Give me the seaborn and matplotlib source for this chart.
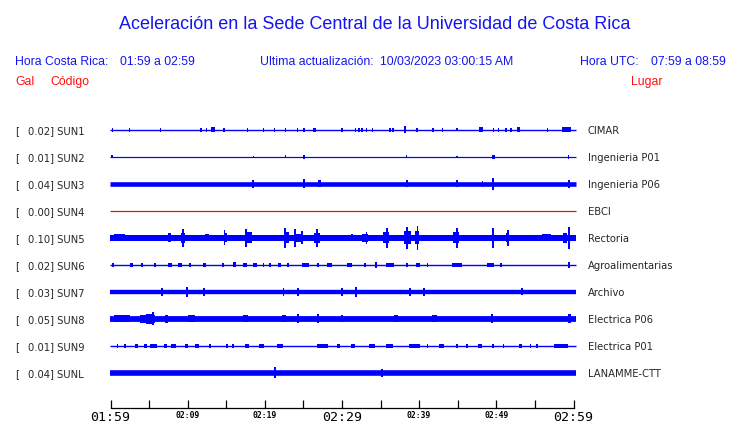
import numpy as np
import pandas as pd
import matplotlib
matplotlib.use("Agg")
import matplotlib.pyplot as plt
import matplotlib.transforms as mtransforms
import seaborn as sns

sns.set_style("white")
plt.rcParams["font.family"] = ["DejaVu Sans"]

# stations
codes = ["SUN1", "SUN2", "SUN3", "SUN4", "SUN5", "SUN6", "SUN7", "SUN8", "SUN9", "SUNL"]
gal = [0.02, 0.01, 0.04, 0.00, 0.10, 0.02, 0.03, 0.05, 0.01, 0.04]
places = ["CIMAR", "Ingenieria P01", "Ingenieria P06", "EBCI", "Rectoria",
          "Agroalimentarias", "Archivo", "Electrica P06", "Electrica P01", "LANAMME-CTT"]
trace_colors = ["blue", "blue", "blue", "red", "blue", "blue", "blue", "blue", "blue", "blue"]

# record span, minutes after 01:59
rec_start = -0.05
rec_end = 60.3
# half width of the continuous noise band (px)
base_amp = [0.7, 0.6, 2.3, 0.6, 3.0, 0.7, 2.2, 2.9, 0.7, 2.8]

# bursts: (minute, half amplitude, duration in minutes)
sun1 = [(0.3, 2, 0.15), (2.5, 2, 0.15), (6.5, 2, 0.15), (11.7, 2, 0.3), (12.4, 2, 0.15),
        (13.3, 2.5, 0.5), (14.7, 2, 0.15), (17.7, 2, 0.15), (19.8, 2, 0.15), (21.3, 2, 0.15),
        (22.7, 2, 0.15), (24.2, 2, 0.15), (25.1, 2, 0.2), (26.4, 2, 0.4), (30.0, 2, 0.15),
        (31.8, 2, 0.15), (32.2, 2, 0.15), (32.6, 2, 0.15), (33.2, 2, 0.15), (34.0, 2, 0.15),
        (36.2, 2, 0.3), (36.6, 2, 0.3), (38.2, 3.5, 0.25), (39.7, 2, 0.25), (41.8, 2, 0.2),
        (43.0, 2, 0.15), (44.9, 1.5, 0.15), (48.0, 2.5, 0.6), (49.6, 2, 0.15), (50.3, 2, 0.15),
        (51.2, 2, 0.25), (51.9, 2, 0.25), (52.9, 2.5, 0.35), (56.6, 2, 0.15), (59.1, 2.5, 1.2)]
sun2 = [(0.2, 1.5, 0.15), (18.5, 1.2, 0.15), (22.7, 1.5, 0.15), (25.1, 1.8, 0.2),
        (38.4, 1.5, 0.15), (44.9, 1.2, 0.15), (49.6, 2.2, 0.35), (59.4, 1.8, 0.15)]
sun3 = [(18.5, 4, 0.2), (25.1, 4.5, 0.25), (27.1, 3.5, 0.35), (38.4, 3.5, 0.25),
        (44.9, 3.5, 0.25), (48.2, 3, 0.2), (49.6, 6, 0.3), (59.4, 4, 0.35)]
sun4 = []
sun5 = [(1.2, 3.6, 1.4), (7.7, 4.3, 0.4), (9.4, 9, 0.2), (9.4, 5, 0.6), (12.5, 3.5, 0.5),
        (14.8, 7.5, 0.2), (14.9, 4.5, 0.5), (17.6, 9, 0.25), (18.0, 5.5, 0.8), (22.6, 10, 0.25),
        (22.8, 5.5, 0.7), (23.9, 9, 0.2), (24.8, 6.5, 0.35), (24.5, 4, 1.0), (26.8, 9, 0.25),
        (26.8, 5, 0.8), (31.3, 3.5, 0.3), (33.2, 6, 0.2), (33.0, 4, 0.7), (35.8, 10, 0.2),
        (35.7, 5.5, 0.8), (38.4, 11, 0.2), (38.5, 6.5, 1.0), (39.8, 12, 0.2), (39.7, 6.5, 0.5),
        (44.9, 10, 0.2), (44.8, 5.5, 0.8), (49.6, 10, 0.2), (51.5, 8, 0.2), (51.5, 4.5, 0.4),
        (56.5, 3.5, 1.2), (58.9, 5, 0.5), (59.4, 11, 0.2)]
sun6 = [(0.3, 2, 0.3), (2.7, 2, 0.4), (4.1, 2, 0.3), (5.8, 2, 0.2), (7.7, 2, 0.5), (9.0, 2, 0.5),
        (10.3, 2, 0.2), (12.2, 2, 0.4), (14.6, 2, 0.2), (16.1, 2.5, 0.4), (17.4, 2, 0.5),
        (18.7, 2, 0.5), (19.8, 2, 0.2), (20.7, 2, 0.2), (21.9, 2, 0.5), (23.0, 2, 0.3),
        (25.3, 2, 0.9), (26.9, 2, 0.2), (28.4, 2, 0.6), (31.0, 2, 0.7), (33.0, 2, 0.2),
        (34.4, 3, 0.2), (36.2, 2, 1.0), (38.4, 2, 0.2), (39.8, 2, 0.5), (41.1, 2, 0.2),
        (44.9, 2, 1.2), (49.3, 2, 0.9), (50.6, 2, 0.3), (59.4, 3, 0.2)]
sun7 = [(6.7, 4, 0.2), (9.9, 5, 0.2), (12.1, 4, 0.2), (22.4, 4, 0.2), (24.3, 4, 0.2),
        (30.0, 4, 0.2), (31.8, 5, 0.2), (38.8, 4, 0.2), (40.6, 4, 0.2), (53.3, 3.5, 0.2)]
sun8 = [(1.5, 3.6, 2.0), (4.8, 4.3, 2.0), (5.5, 6.5, 0.3), (5.0, 5.3, 0.8), (7.3, 4.3, 0.4),
        (10.5, 3.6, 1.0), (17.5, 3.5, 0.6), (22.5, 3.5, 0.5), (24.3, 4.5, 0.2),
        (26.9, 4.5, 0.2), (30.0, 3.5, 0.3), (37.0, 3.4, 0.6), (42.0, 3.4, 0.6),
        (49.4, 4.5, 0.3), (59.5, 4.5, 0.3)]
sun9 = [(0.9, 2, 0.2), (1.9, 2, 0.2), (3.4, 2, 0.4), (4.5, 2, 0.4), (5.6, 2, 0.9), (7.1, 2, 0.4),
        (8.2, 2, 0.7), (9.9, 2, 0.4), (11.2, 2, 0.6), (12.9, 2, 0.2), (15.1, 2, 0.2),
        (15.9, 2, 0.2), (17.7, 2, 0.5), (19.6, 2, 0.6), (22.0, 2, 0.8), (27.5, 2, 1.4),
        (29.5, 2, 0.4), (31.4, 2, 0.5), (33.9, 2, 0.7), (36.2, 2, 0.9), (39.4, 2, 1.5),
        (41.1, 2, 0.2), (42.9, 2, 0.7), (44.9, 2, 0.2), (46.2, 2, 0.2), (47.9, 2, 0.5),
        (49.6, 2, 0.2), (50.9, 2, 0.2), (53.1, 2, 0.4), (54.4, 2, 0.2), (55.3, 2, 0.2),
        (58.4, 2, 1.8)]
sunl = [(21.3, 5.5, 0.25), (35.2, 4, 0.2)]
bursts = [sun1, sun2, sun3, sun4, sun5, sun6, sun7, sun8, sun9, sunl]

# time axis
tick_min = [0, 5, 10, 15, 20, 25, 30, 35, 40, 45, 50, 55, 60]
tick_lab = ["01:59", "", "02:09", "", "02:19", "", "02:29", "", "02:39", "", "02:49", "", "02:59"]
big_labels = ["01:59", "02:29", "02:59"]

W, H = 740, 423
row_px = 27.0          # pixels between traces
k = 1 / row_px         # px -> row units
blue_txt = "#1414f0"

fig = plt.figure(figsize=(W / 100, H / 100), dpi=100)
# axes: x 0..60 min spans px 110.5..573.5, bottom spine at px 408
ax = fig.add_axes([110.5 / W, 1 - 408 / H, 463 / W, (408 - 100) / H])
ax.set_xlim(0, 60)
ax.set_ylim((408 - 129.8) / row_px, (100 - 129.8) / row_px)

for i in range(len(codes)):
    c = trace_colors[i]
    sns.lineplot(x=[rec_start, rec_end], y=[i, i], ax=ax, color=c,
                 linewidth=max(2 * base_amp[i], 1.0) * 0.72, solid_capstyle="butt")
    if bursts[i]:
        df = pd.DataFrame(bursts[i], columns=["t", "amp", "dur"])
        ax.bar(df["t"], 2 * df["amp"] * k, width=df["dur"], bottom=i - df["amp"] * k,
               color=c, linewidth=0, align="center", clip_on=False)
for line in ax.lines:
    line.set_clip_on(False)

for s in ["left", "right", "top"]:
    ax.spines[s].set_visible(False)
ax.spines["bottom"].set_color("black")
ax.spines["bottom"].set_linewidth(0.9)
ax.set_yticks([])
ax.set_xticks(tick_min)
ax.set_xticklabels(tick_lab)
ax.tick_params(axis="x", bottom=True, direction="in", length=5.8, width=0.9, pad=2.5,
               colors="black")
for lab in ax.get_xticklabels():
    lab.set_family("DejaVu Sans Mono")
    if lab.get_text() in big_labels:
        lab.set_fontsize(9.5)
    else:
        lab.set_fontsize(5.8)
        lab.set_fontweight("bold")
ax.set_xlabel("")
ax.set_ylabel("")
ax.grid(False)

# station labels
tr = mtransforms.blended_transform_factory(fig.transFigure, ax.transData)
for i in range(len(codes)):
    yb = i + 4.6 * k
    ax.text(15 / W, yb, "[", transform=tr, fontsize=7.2, va="baseline", ha="left", clip_on=False)
    ax.text(28 / W, yb, "%.2f] %s" % (gal[i], codes[i]), transform=tr, fontsize=7.2,
            va="baseline", ha="left", clip_on=False)
    ax.text(588 / W, yb, places[i], transform=tr, fontsize=7.2, va="baseline", ha="left",
            clip_on=False)

# header
hdr = dict(family=["Liberation Sans", "DejaVu Sans"], va="baseline", ha="left", fontsize=8.8)
fig.text(375 / W, 1 - 29.3 / H, "Aceleración en la Sede Central de la Universidad de Costa Rica",
         ha="center", va="baseline", fontsize=13, color=blue_txt,
         family=["Liberation Sans", "DejaVu Sans"])
fig.text(15 / W, 1 - 65 / H, "Hora Costa Rica:", color=blue_txt, **hdr)
fig.text(120 / W, 1 - 65 / H, "01:59 a 02:59", color=blue_txt, **hdr)
fig.text(260 / W, 1 - 65 / H, "Ultima actualización:", color=blue_txt, **hdr)
fig.text(380 / W, 1 - 65 / H, "10/03/2023 03:00:15 AM", color=blue_txt, **hdr)
fig.text(580.5 / W, 1 - 65 / H, "Hora UTC:", color=blue_txt, **hdr)
fig.text(651 / W, 1 - 65 / H, "07:59 a 08:59", color=blue_txt, **hdr)
fig.text(15 / W, 1 - 85 / H, "Gal", color="#ff1010", **hdr)
fig.text(50 / W, 1 - 85 / H, "Código", color="#ff1010", **hdr)
fig.text(630.7 / W, 1 - 85 / H, "Lugar", color="#ff1010", **hdr)

plt.savefig("out.png", dpi=100)
plt.close()
